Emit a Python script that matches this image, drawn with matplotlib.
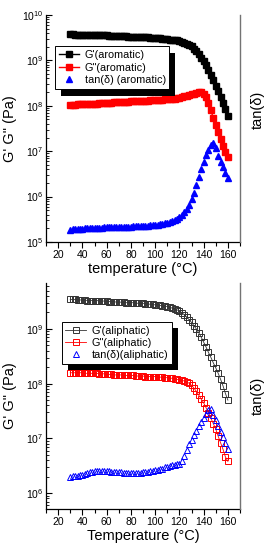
import numpy as np
import matplotlib
matplotlib.use("Agg")
import matplotlib.pyplot as plt
from matplotlib.patches import Rectangle
from matplotlib.ticker import LogLocator, LogFormatterMathtext, MultipleLocator, NullFormatter, NullLocator

plt.rcParams['font.family'] = ['Liberation Sans', 'DejaVu Sans']
plt.rcParams['mathtext.fontset'] = 'custom'
plt.rcParams['mathtext.rm'] = 'Liberation Sans'
plt.rcParams['mathtext.it'] = 'Liberation Sans'

# ---------------- data ----------------
temperature = list(range(30, 161, 2))

# log10 of modulus (Pa), aromatic
g1_arom_log = [9.58, 9.58, 9.57, 9.57, 9.57, 9.56, 9.56, 9.56, 9.56, 9.55, 9.55, 9.55, 9.55, 9.55, 9.55, 9.55,
               9.54, 9.54, 9.54, 9.54, 9.53, 9.53, 9.53, 9.53, 9.52, 9.52, 9.52, 9.52, 9.52, 9.52, 9.51, 9.51,
               9.51, 9.50, 9.50, 9.50, 9.49, 9.49, 9.48, 9.48, 9.47, 9.46, 9.46, 9.45, 9.44, 9.43, 9.41, 9.39,
               9.37, 9.34, 9.31, 9.26, 9.21, 9.14, 9.06, 8.98, 8.89, 8.78, 8.67, 8.56, 8.44, 8.32, 8.19, 8.06,
               7.92, 7.78]
g2_arom_log = [8.02, 8.02, 8.02, 8.03, 8.03, 8.03, 8.04, 8.04, 8.04, 8.05, 8.05, 8.05, 8.06, 8.06, 8.06, 8.07,
               8.07, 8.07, 8.08, 8.08, 8.08, 8.08, 8.09, 8.09, 8.09, 8.10, 8.10, 8.10, 8.10, 8.11, 8.11, 8.11,
               8.11, 8.12, 8.12, 8.12, 8.13, 8.13, 8.13, 8.14, 8.14, 8.15, 8.15, 8.16, 8.17, 8.18, 8.19, 8.21,
               8.22, 8.24, 8.25, 8.27, 8.29, 8.30, 8.30, 8.27, 8.19, 8.06, 7.90, 7.73, 7.57, 7.42, 7.27, 7.12,
               6.99, 6.88]
tan_arom_log = [5.27, 5.28, 5.28, 5.29, 5.29, 5.29, 5.30, 5.30, 5.30, 5.30, 5.31, 5.31, 5.31, 5.31, 5.32, 5.32,
                5.32, 5.32, 5.33, 5.33, 5.33, 5.33, 5.34, 5.34, 5.34, 5.34, 5.35, 5.35, 5.35, 5.35, 5.36, 5.36,
                5.36, 5.37, 5.37, 5.38, 5.38, 5.39, 5.40, 5.41, 5.42, 5.44, 5.46, 5.48, 5.51, 5.54, 5.59, 5.65,
                5.73, 5.82, 5.94, 6.09, 6.26, 6.43, 6.60, 6.77, 6.91, 7.03, 7.13, 7.18, 7.06, 6.90, 6.77, 6.65,
                6.53, 6.42]

# aliphatic
g1_alip_log = [9.54, 9.54, 9.54, 9.53, 9.53, 9.53, 9.53, 9.52, 9.52, 9.52, 9.52, 9.52, 9.51, 9.51, 9.51, 9.51,
               9.50, 9.50, 9.50, 9.49, 9.49, 9.49, 9.49, 9.48, 9.48, 9.48, 9.48, 9.47, 9.47, 9.47, 9.47, 9.46,
               9.46, 9.45, 9.45, 9.44, 9.44, 9.43, 9.42, 9.42, 9.41, 9.40, 9.38, 9.37, 9.35, 9.33, 9.30, 9.26,
               9.22, 9.17, 9.12, 9.06, 9.00, 8.93, 8.85, 8.76, 8.67, 8.57, 8.48, 8.38, 8.29, 8.19, 8.08, 7.96,
               7.82, 7.70]
g2_alip_log = [8.20, 8.20, 8.20, 8.20, 8.20, 8.20, 8.19, 8.19, 8.19, 8.19, 8.19, 8.19, 8.18, 8.18, 8.18, 8.17,
               8.17, 8.17, 8.16, 8.16, 8.16, 8.16, 8.15, 8.15, 8.15, 8.15, 8.15, 8.14, 8.14, 8.14, 8.14, 8.13,
               8.13, 8.13, 8.13, 8.13, 8.12, 8.12, 8.12, 8.11, 8.11, 8.10, 8.10, 8.09, 8.08, 8.07, 8.06, 8.05,
               8.03, 8.01, 7.97, 7.92, 7.86, 7.79, 7.72, 7.65, 7.56, 7.47, 7.37, 7.27, 7.17, 7.04, 6.92, 6.80,
               6.66, 6.58]
tan_alip_log = [6.30, 6.31, 6.31, 6.32, 6.33, 6.34, 6.35, 6.37, 6.38, 6.39, 6.40, 6.40, 6.41, 6.41, 6.40, 6.40,
                6.40, 6.39, 6.39, 6.38, 6.38, 6.38, 6.37, 6.37, 6.37, 6.37, 6.37, 6.37, 6.37, 6.37, 6.38, 6.38,
                6.39, 6.40, 6.41, 6.42, 6.43, 6.44, 6.45, 6.47, 6.48, 6.50, 6.51, 6.52, 6.53, 6.54, 6.58, 6.68,
                6.79, 6.89, 6.98, 7.06, 7.14, 7.22, 7.30, 7.38, 7.45, 7.52, 7.53, 7.43, 7.33, 7.22, 7.12, 7.02,
                6.91, 6.80]

labels_arom = ["G'(aromatic)", 'G"(aromatic)', "tan(\u03b4) (aromatic)"]
labels_alip = ["G'(aliphatic)", 'G"(aliphatic)', "tan(\u03b4)(aliphatic)"]

T = np.array(temperature)
def val(lst):
    return 10 ** np.array(lst)

W, H = 267, 550
fig = plt.figure(figsize=(W / 100, H / 100), dpi=100)

TICK_FS = 7.5
LABEL_FS = 10.5
LEG_FS = 7.8


def setup_axes(rect, ylim, xlabel, tanlabel_y):
    ax = fig.add_axes(rect)
    ax.set_yscale('log')
    ax.set_xlim(10, 170)
    ax.set_ylim(*ylim)
    ax.spines['top'].set_visible(False)
    ax.spines['right'].set_visible(False)
    ax.xaxis.set_major_locator(MultipleLocator(20))
    ax.xaxis.set_minor_locator(MultipleLocator(10))
    ax.yaxis.set_major_locator(LogLocator(base=10, numticks=20))
    ax.yaxis.set_minor_locator(LogLocator(base=10, subs=np.arange(2, 10), numticks=20))
    ax.yaxis.set_major_formatter(LogFormatterMathtext())
    ax.yaxis.set_minor_formatter(NullFormatter())
    ax.tick_params(axis='x', which='major', direction='out', length=4, width=0.8, labelsize=TICK_FS, pad=2)
    ax.tick_params(axis='x', which='minor', direction='out', length=3, width=0.8)
    ax.tick_params(axis='y', which='major', direction='in', length=4, width=0.8, labelsize=TICK_FS, pad=2)
    ax.tick_params(axis='y', which='minor', direction='in', length=2.2, width=0.6)
    for s in ['left', 'bottom']:
        ax.spines[s].set_linewidth(0.9)
    ax.set_xlabel(xlabel, fontsize=LABEL_FS, labelpad=1)
    ax.set_ylabel('G\' G" (Pa)', fontsize=LABEL_FS)
    ax.yaxis.set_label_coords(-0.15, 0.5)

    ax2 = ax.twinx()
    ax2.set_yscale('log')
    ax2.set_ylim(*ylim)
    ax2.yaxis.set_major_locator(NullLocator())
    ax2.yaxis.set_minor_locator(NullLocator())
    for s in ['top', 'left', 'bottom']:
        ax2.spines[s].set_visible(False)
    ax2.spines['right'].set_color('0.45')
    ax2.spines['right'].set_linewidth(1.0)
    ax2.set_ylabel('tan(\u03b4)', fontsize=LABEL_FS)
    ax2.yaxis.set_label_coords(1.055, tanlabel_y)
    return ax, ax2


def add_shadow(ax, leg, dx, dy):
    fig.canvas.draw()
    bb = leg.get_window_extent()
    inv = ax.transAxes.inverted()
    (x0, y0) = inv.transform((bb.x0 + dx, bb.y0 - dy))
    (x1, y1) = inv.transform((bb.x1 + dx, bb.y1 - dy))
    r = Rectangle((x0, y0), x1 - x0, y1 - y0, transform=ax.transAxes, facecolor='black',
                  edgecolor='none', zorder=4.9, clip_on=False)
    ax.add_patch(r)


def style_legend(leg):
    fr = leg.get_frame()
    fr.set_edgecolor('black')
    fr.set_facecolor('white')
    fr.set_alpha(1.0)
    fr.set_linewidth(0.7)
    leg.set_zorder(5)


# ---------------- top panel ----------------
axA, axA2 = setup_axes([46 / W, 1 - 242 / H, 194 / W, 227 / H], (1e5, 1e10), 'temperature (\u00b0C)', 0.58)
hA1, = axA.plot(T, val(g1_arom_log), '-s', color='black', ms=4.3, lw=1.0, mec='black', mfc='black')
hA2, = axA.plot(T, val(g2_arom_log), '-s', color='red', ms=4.3, lw=1.0, mec='red', mfc='red')
hA3, = axA2.plot(T, val(tan_arom_log), '^', color='blue', ms=4.6, mec='blue', mfc='blue', linestyle='none')
legA = axA.legend([hA1, hA2, hA3], labels_arom, loc='upper left', bbox_to_anchor=(0.045, 0.862),
                  borderaxespad=0, fontsize=LEG_FS, frameon=True, fancybox=False, numpoints=1,
                  framealpha=1.0, handlelength=1.9, handletextpad=0.5, labelspacing=0.22, borderpad=0.35)
style_legend(legA)

# ---------------- bottom panel ----------------
axB, axB2 = setup_axes([46 / W, 1 - 509 / H, 194 / W, 226 / H], (10 ** 5.71, 10 ** 9.84), 'Temperature (\u00b0C)', 0.5)
hB1, = axB.plot(T, val(g1_alip_log), '-s', color='#333333', ms=4.0, lw=0.6, mec='#333333', mfc='none', mew=0.7)
hB2, = axB.plot(T, val(g2_alip_log), '-s', color='red', ms=4.0, lw=0.6, mec='red', mfc='none', mew=0.7)
hB3, = axB2.plot(T, val(tan_alip_log), '^', color='blue', ms=4.6, mec='blue', mfc='none', mew=0.7, linestyle='none')
legB = axB.legend([hB1, hB2, hB3], labels_alip, loc='upper left', bbox_to_anchor=(0.08, 0.828),
                  borderaxespad=0, fontsize=LEG_FS, frameon=True, fancybox=False, numpoints=1,
                  framealpha=1.0, handlelength=1.9, handletextpad=0.5, labelspacing=0.2, borderpad=0.35)
style_legend(legB)

add_shadow(axA, legA, 6, 7)
add_shadow(axB, legB, 6, 6)

fig.savefig('out.png', dpi=100)
